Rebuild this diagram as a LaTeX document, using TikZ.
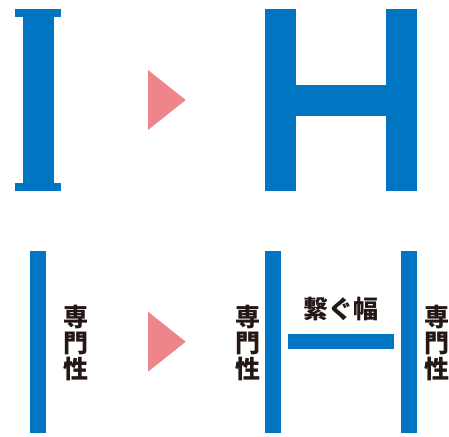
\documentclass[tikz,border=0pt]{standalone}
\usepackage{fontspec}
\newfontfamily\jp{Noto Sans CJK JP}
\definecolor{barblue}{HTML}{0075C2}
\definecolor{arrowpink}{HTML}{EE858B}
\definecolor{textdark}{HTML}{231815}
\begin{document}
\begin{tikzpicture}[x=1pt,y=-1pt,
  bar/.style={fill=barblue},
  tri/.style={fill=arrowpink},
  vlabel/.style={inner sep=0pt,align=center,text=textdark,font=\jp\bfseries\fontsize{25}{26}\selectfont},
  hlabel/.style={inner sep=0pt,text=textdark,font=\jp\bfseries\fontsize{25}{26}\selectfont}]
\useasboundingbox (0,0) rectangle (449,436);
% I
\fill[bar] (15,9) rectangle (61,17);
\fill[bar] (23.3,17) rectangle (54,183);
\fill[bar] (15,183) rectangle (61,191);
% arrow 1
\fill[tri] (148,70) -- (185.7,100) -- (148,130) -- cycle;
% H
\fill[bar] (265,9) rectangle (296,191);
\fill[bar] (386,9) rectangle (417.3,191);
\fill[bar] (296,85) rectangle (386,116);
% bottom left
\fill[bar] (30,251) rectangle (45.7,432.7);
\node[vlabel] (s1) at (76,342.5) {専\\門\\性};
% arrow 2
\fill[tri] (148,311.7) -- (185.7,341.7) -- (148,371.7) -- cycle;
% bottom right
\fill[bar] (265,251) rectangle (281,432.7);
\fill[bar] (401,251) rectangle (417,432.7);
\fill[bar] (288,334) rectangle (394,349.3);
\node[hlabel] (w) at (341,308.7) {繋ぐ幅};
\node[vlabel] (s2) at (247.5,343.3) {専\\門\\性};
\node[vlabel] (s3) at (436.5,343.3) {専\\門\\性};
\end{tikzpicture}
\end{document}
